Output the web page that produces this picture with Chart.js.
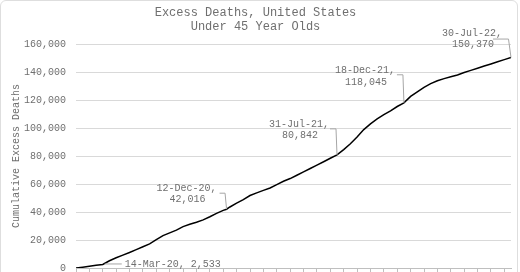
<!DOCTYPE html>
<html>
<head>
<meta charset="utf-8">
<script src="https://cdn.jsdelivr.net/npm/chart.js@4"></script>
<style>
  html, body { margin: 0; padding: 0; background: #fff; overflow: hidden; }
  #frame { position: absolute; left: 0; top: 0; width: 516px; height: 300px; border: 1px solid #dedede; border-radius: 6px; }
  #wrap { position: absolute; left: 0; top: 0; width: 520px; height: 272px; }
</style>
</head>
<body>
<div id="frame"></div>
<div id="wrap"><canvas id="chart"></canvas></div>
<script>
// weeks since the start of the series, and cumulative excess deaths
const weeks = [0, 2, 4, 6, 8, 10, 12, 14, 16, 18, 20, 22, 24, 26, 28, 30, 32, 34, 36, 38, 40, 42, 44, 45, 46,
  48, 50, 52, 54, 56, 58, 60, 62, 64, 66, 68, 70, 72, 74, 76, 78, 80, 82, 84, 86, 88, 90, 92, 94, 96, 98,
  100, 102, 104, 106, 108, 110, 112, 114, 116, 118, 120, 122, 124, 126, 128, 130];
const deaths = [0, 600, 1250, 1900, 2533, 5200, 7300, 9200, 11100, 13100, 15200, 17200, 20200, 23100, 25100,
  27100, 29600, 31200, 32700, 34400, 36600, 39000, 41200, 42016, 43600,
  46300, 48900, 51800, 53700, 55500, 57200, 59600, 62000, 63900, 66300, 68700, 71100, 73500, 75900, 78400, 80842,
  84600, 88800, 93600, 98900, 103000, 106500, 109600, 112300, 115400, 118045,
  122600, 125900, 129100, 131700, 133800, 135300, 136700, 137900, 139700, 141200, 142700, 144300, 145800, 147400,
  148900, 150370];

// labelled points
const noteWeeks = [8, 45, 78, 98, 130];
const noteDates = ['14-Mar-20', '12-Dec-20', '31-Jul-21', '18-Dec-21', '30-Jul-22'];

const yTicks = [0, 20000, 40000, 60000, 80000, 100000, 120000, 140000, 160000];

const fmt = v => v.toLocaleString('en-US');
const mono = '"Liberation Mono", "Courier New", monospace';
const textGrey = '#6f6f6f';

// where each label sits relative to its point
const noteLayout = [
  { inline: true, dx: 22, dy: 0, lx: 2, ex: 19 },
  { dx: -40, dy: -21, lx: -7, ex: -1.5, ey: -16 },
  { dx: -38, dy: -31, lx: -7, ex: -1, ey: -26 },
  { dx: -39, dy: -32, lx: -7, ex: -1, ey: -28 },
  { dx: -39, dy: -24.5, lx: -18, ex: -2.5, ey: -18.5 }
];

const notePlugin = {
  id: 'notes',
  afterDatasetsDraw(chart) {
    const { ctx, scales: { x, y } } = chart;
    ctx.save();
    ctx.font = '10px ' + mono;
    ctx.fillStyle = textGrey;
    ctx.strokeStyle = '#a6a6a6';
    ctx.lineWidth = 1;
    ctx.textBaseline = 'middle';
    noteWeeks.forEach((w, i) => {
      const v = deaths[weeks.indexOf(w)];
      const px = x.getPixelForValue(w);
      const py = y.getPixelForValue(v);
      const L = noteLayout[i];
      ctx.beginPath();
      if (L.inline) {
        ctx.moveTo(px + L.lx, py - 0.5);
        ctx.lineTo(px + L.ex, py - 0.5);
        ctx.stroke();
        ctx.textAlign = 'left';
        ctx.fillText(noteDates[i] + ', ' + fmt(v), px + L.dx, py + L.dy);
      } else {
        ctx.moveTo(px + L.lx, py + L.ey);
        ctx.lineTo(px + L.ex, py + L.ey);
        ctx.lineTo(px, py);
        ctx.stroke();
        ctx.textAlign = 'center';
        ctx.fillText(noteDates[i] + ',', px + L.dx, py + L.dy);
        ctx.fillText(fmt(v), px + L.dx + 1, py + L.dy + 11.5);
      }
    });
    ctx.restore();
  }
};

new Chart(document.getElementById('chart'), {
  type: 'line',
  data: {
    datasets: [{
      data: weeks.map((w, i) => ({ x: w, y: deaths[i] })),
      borderColor: '#000',
      borderWidth: 1.5,
      pointRadius: 0,
      tension: 0,
      fill: false
    }]
  },
  options: {
    responsive: true,
    maintainAspectRatio: false,
    animation: false,
    layout: { padding: { left: 0, right: 9, top: 0, bottom: 0 } },
    plugins: {
      legend: { display: false },
      tooltip: { enabled: false },
      title: {
        display: true,
        text: ['Excess Deaths, United States', 'Under 45 Year Olds'],
        color: textGrey,
        font: { family: mono, size: 12, weight: 'normal', lineHeight: 1.17 },
        padding: { top: 6, bottom: 10 }
      }
    },
    scales: {
      x: {
        type: 'linear',
        min: weeks[0],
        max: weeks[weeks.length - 1],
        // no tick labels: keep the axis to just its tick marks
        afterFit: s => { s.height = 4; s.paddingLeft = 0; s.paddingRight = 0; },
        ticks: { display: false, stepSize: 4, includeBounds: false },
        grid: { drawOnChartArea: false, drawTicks: true, tickLength: 4, color: '#bfbfbf' },
        border: { display: true, color: '#bfbfbf' }
      },
      y: {
        min: yTicks[0],
        max: yTicks[yTicks.length - 1],
        afterBuildTicks: s => { s.ticks = yTicks.map(v => ({ value: v })); },
        afterFit: s => { s.width = 76; s.paddingTop = 0; s.paddingBottom = 0; },
        ticks: {
          color: textGrey,
          padding: 10,
          font: { family: mono, size: 10 },
          callback: v => fmt(v)
        },
        grid: { color: '#d9d9d9', drawTicks: false },
        border: { display: false },
        title: {
          display: true,
          text: 'Cumulative Excess Deaths',
          color: textGrey,
          font: { family: mono, size: 10 },
          padding: { top: 10, bottom: 0 }
        }
      }
    }
  },
  plugins: [notePlugin]
});
</script>
</body>
</html>
